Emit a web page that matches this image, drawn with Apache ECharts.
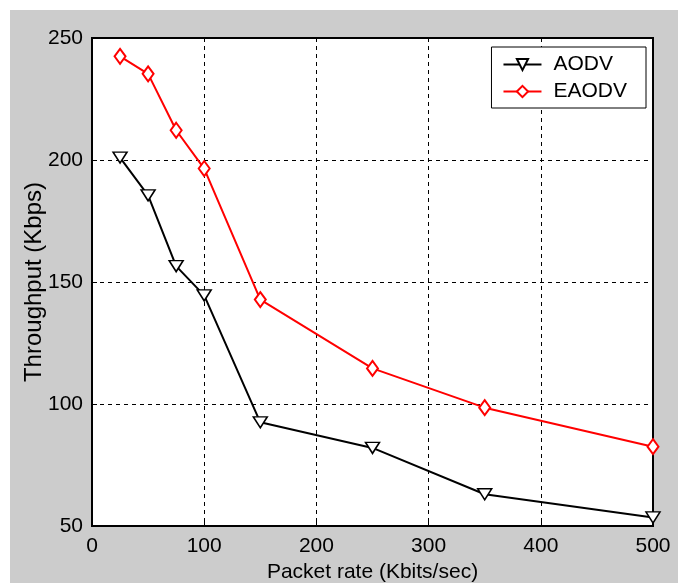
<!DOCTYPE html>
<html><head><meta charset="utf-8">
<script src="https://cdn.jsdelivr.net/npm/echarts@6/dist/echarts.min.js"></script>
<style>html,body{margin:0;padding:0;background:#fff}#c{width:683px;height:583px}</style>
</head><body><div id="c"></div>
<script>
const packetRates = [25, 50, 75, 100, 150, 250, 350, 500];
const aodv = [201, 185.5, 156.5, 144.5, 92.5, 82, 63, 53.5];
const eaodv = [242.5, 235.3, 212.2, 196.5, 142.8, 114.6, 98.5, 82.5];
const seriesNames = ['AODV', 'EAODV'];
const xTitle = 'Packet rate (Kbits/sec)';
const yTitle = 'Throughput (Kbps)';

const chart = echarts.init(document.getElementById('c'));
const fontFam = 'Liberation Sans, Arial, sans-serif';
const pair = (xs, ys) => xs.map((x, i) => [x, ys[i]]);
chart.setOption({
  animation: false,
  backgroundColor: 'transparent',
  graphic: [{
    type: 'rect', z: -10, silent: true,
    shape: { x: 10, y: 10, width: 668, height: 573 },
    style: { fill: '#cccccc' }
  }],
  grid: {
    left: 92, right: 30, top: 38, bottom: 57,
    outerBoundsMode: 'none', containLabel: false,
    show: true, backgroundColor: '#ffffff', borderColor: '#000', borderWidth: 2
  },
  legend: {
    data: seriesNames,
    orient: 'vertical',
    right: 37, top: 47,
    backgroundColor: '#fff',
    borderColor: '#000', borderWidth: 1,
    padding: [7, 19, 6, 11],
    itemWidth: 38, itemHeight: 14, itemGap: 6,
    textStyle: { fontSize: 21, fontFamily: fontFam, color: '#000', padding: [0, 0, 0, 7] }
  },
  xAxis: {
    type: 'value', min: 0, max: 500, interval: 100,
    name: xTitle, nameLocation: 'middle', nameGap: 36, nameMoveOverlap: false,
    nameTextStyle: { fontSize: 21, fontFamily: fontFam, color: '#000' },
    axisLine: { show: true, onZero: false, lineStyle: { color: '#000', width: 2 } },
    axisTick: { show: true, inside: true, length: 5, lineStyle: { color: '#000', width: 1 } },
    axisLabel: { fontSize: 21, fontFamily: fontFam, color: '#000', margin: 10 },
    splitLine: { show: true, lineStyle: { color: '#000', type: [4, 4], width: 1 } }
  },
  yAxis: {
    type: 'value', min: 50, max: 250, interval: 50,
    name: yTitle, nameLocation: 'middle', nameGap: 46, nameMoveOverlap: false,
    nameTextStyle: { fontSize: 24, fontFamily: fontFam, color: '#000' },
    axisLine: { show: true, onZero: false, lineStyle: { color: '#000', width: 2 } },
    axisTick: { show: true, inside: true, length: 5, lineStyle: { color: '#000', width: 1 } },
    axisLabel: { fontSize: 21, fontFamily: fontFam, color: '#000', margin: 9 },
    splitLine: { show: true, lineStyle: { color: '#000', type: [4, 4], width: 1 } }
  },
  series: [
    {
      name: seriesNames[0], type: 'line', data: pair(packetRates, aodv),
      symbol: 'triangle', symbolRotate: 180, symbolSize: [14, 11],
      lineStyle: { color: '#000', width: 2 },
      itemStyle: { color: '#fff', borderColor: '#000', borderWidth: 1.5 },
      z: 3
    },
    {
      name: seriesNames[1], type: 'line', data: pair(packetRates, eaodv),
      symbol: 'diamond', symbolSize: [11, 15],
      lineStyle: { color: '#ff0000', width: 2 },
      itemStyle: { color: '#fff', borderColor: '#ff0000', borderWidth: 2 },
      z: 4
    }
  ]
});
</script></body></html>
